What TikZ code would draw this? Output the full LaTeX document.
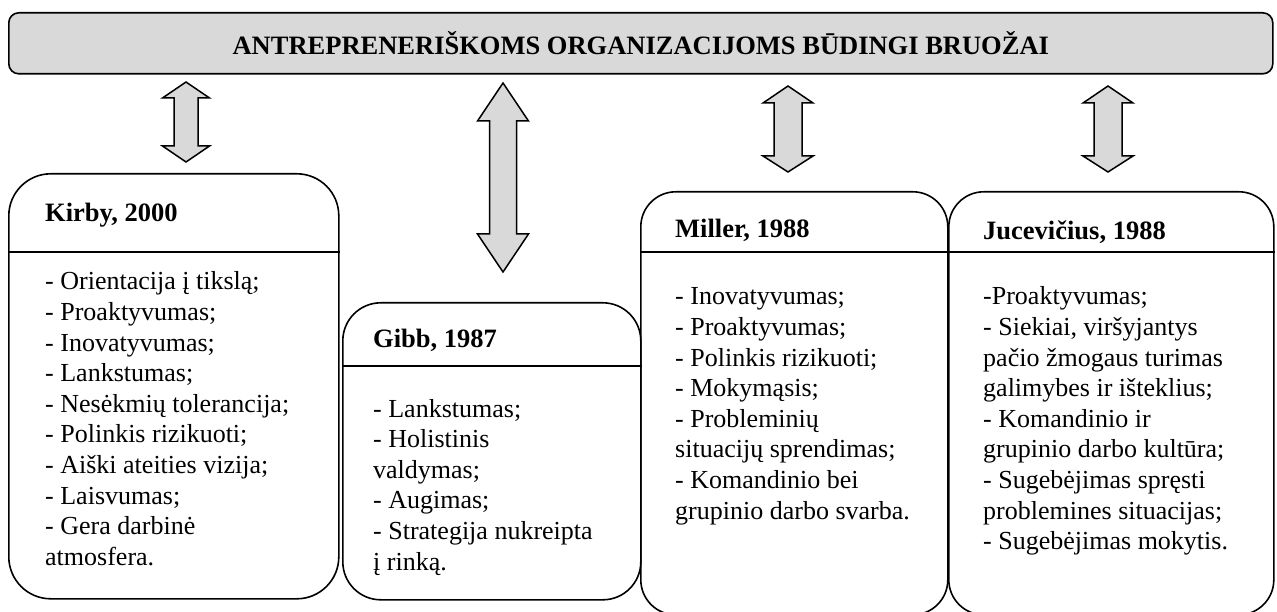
\documentclass[tikz,border=0pt]{standalone}
\usepackage{fontspec}
\setmainfont{Liberation Serif}
\definecolor{bandgray}{HTML}{D9D9D9}
\tikzset{
	card/.style={draw=black, line width=1.6pt, rounded corners=#1, anchor=north west, inner sep=0},
	card/.default=38,
	heading/.style={anchor=base west, inner sep=0, font=\bfseries\fontsize{26.5}{30}\selectfont},
	listing/.style={anchor=base west, inner sep=0, text width=290, align=flush left, font=\fontsize{26}{30.6}\selectfont},
	twoway/.style={fill=bandgray, draw=black, line width=1.5pt, line join=miter}
}
\begin{document}
\begin{tikzpicture}[x=1pt, y=-1pt]
	\useasboundingbox (0,0) rectangle (1277,612);
	\clip (0,0) rectangle (1277,612);
	% top band
	\node[draw=black, fill=bandgray, line width=1.6pt, rounded corners=10, minimum width=1264, minimum height=61, anchor=north west,
	      font=\bfseries\fontsize{26.5}{30}\selectfont] (band) at (8,12) {ANTREPRENERIŠKOMS ORGANIZACIJOMS BŪDINGI BRUOŽAI};
	% double arrows
	\filldraw[twoway] (186,82) -- (209.5,98) -- (198,98) -- (198,146) -- (209.5,146) -- (186,162) -- (162.5,146) -- (174,146) -- (174,98) -- (162.5,98) -- cycle;
	\filldraw[twoway] (503,83) -- (528.5,121) -- (516.5,121) -- (516.5,234) -- (528.5,234) -- (503,272) -- (477.5,234) -- (489.5,234) -- (489.5,121) -- (477.5,121) -- cycle;
	\filldraw[twoway] (788,86) -- (813,103) -- (802,103) -- (802,156) -- (813,156) -- (788,172) -- (763,156) -- (774,156) -- (774,103) -- (763,103) -- cycle;
	\filldraw[twoway] (1108,86) -- (1133,103) -- (1122,103) -- (1122,156) -- (1133,156) -- (1108,172) -- (1083,156) -- (1094,156) -- (1094,103) -- (1083,103) -- cycle;
	% Kirby
	\node[card=42, minimum width=330, minimum height=425] (kirby) at (8,173) {};
	\draw[line width=1.6pt] (kirby.west |- 0,252) -- (kirby.east |- 0,252);
	\node[heading] (kirbyhd) at (45,222) {Kirby, 2000};
	\node[listing] (kirbytx) at (45,290) {- Orientacija į tikslą;\\ - Proaktyvumas;\\ - Inovatyvumas;\\ - Lankstumas;\\ - Nesėkmių tolerancija;\\ - Polinkis rizikuoti;\\ - Aiški ateities vizija;\\ - Laisvumas;\\ - Gera darbinė\\ atmosfera.};
	% Gibb
	\node[card, minimum width=298, minimum height=297] (gibb) at (342,302) {};
	\draw[line width=1.6pt] (gibb.west |- 0,366) -- (gibb.east |- 0,366);
	\node[heading] (gibbhd) at (373,348) {Gibb, 1987};
	\node[listing] (gibbtx) at (373,417) {- Lankstumas;\\ - Holistinis\\ valdymas;\\ - Augimas;\\ - Strategija nukreipta\\ į rinką.};
	% Miller
	\node[card=35, minimum width=307, minimum height=423] (miller) at (640,191) {};
	\draw[line width=1.6pt] (miller.west |- 0,252) -- (miller.east |- 0,252);
	\node[heading] (millerhd) at (675,238) {Miller, 1988};
	\node[listing] (millertx) at (675,305) {- Inovatyvumas;\\ - Proaktyvumas;\\ - Polinkis rizikuoti;\\ - Mokymąsis;\\ - Probleminių\\ situacijų sprendimas;\\ - Komandinio bei\\ grupinio darbo svarba.};
	% Jucevicius
	\node[card=35, minimum width=325, minimum height=423] (juce) at (948,191) {};
	\draw[line width=1.6pt] (juce.west |- 0,252) -- (juce.east |- 0,252);
	\node[heading] (jucehd) at (983,240) {Jucevičius, 1988};
	\node[listing] (jucetx) at (983,305) {-Proaktyvumas;\\ - Siekiai, viršyjantys\\ pačio žmogaus turimas\\ galimybes ir išteklius;\\ - Komandinio ir\\ grupinio darbo kultūra;\\ - Sugebėjimas spręsti\\ problemines situacijas;\\ - Sugebėjimas mokytis.};
\end{tikzpicture}
\end{document}
